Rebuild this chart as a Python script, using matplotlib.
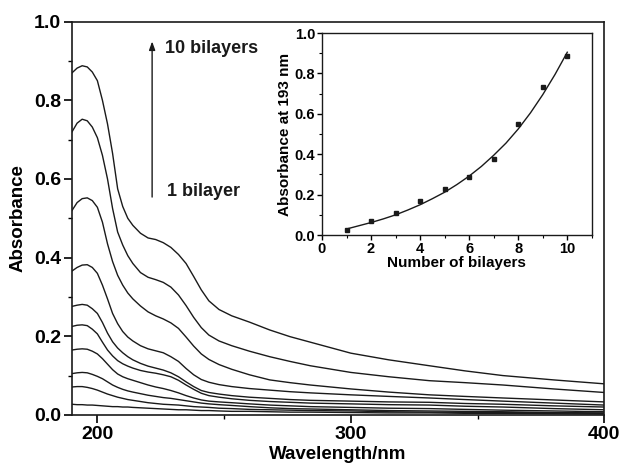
import numpy as np
import matplotlib
matplotlib.use('Agg')
import matplotlib.pyplot as plt
from matplotlib.ticker import MultipleLocator, FormatStrFormatter

plt.rcParams['font.family'] = ['Liberation Sans', 'DejaVu Sans']
plt.rcParams['font.weight'] = 'bold'

INK = '#1a1a1a'

# wavelength grid (nm) shared by all spectra
wavelength = [190, 192, 194, 196, 198, 200, 202, 204, 206, 208, 210, 212, 214,
              217, 220, 223, 226, 229, 232, 235, 238, 241, 244, 248, 253, 260,
              268, 276, 284, 300, 315, 331, 345, 360, 380, 400]

# absorbance spectra, 1 to 10 bilayers
abs_1 = [.027, .026, .026, .025, .025, .024, .023, .022, .021, .021, .020, .020, .019,
         .018, .017, .016, .015, .014, .013, .013, .012, .011, .011, .010, .009, .009,
         .008, .007, .007, .006, .005, .005, .004, .004, .003, .002]
abs_2 = [.071, .072, .072, .070, .067, .063, .058, .053, .049, .045, .042, .039, .037,
         .034, .031, .029, .027, .026, .025, .023, .021, .020, .019, .017, .016, .014,
         .013, .012, .011, .010, .008, .007, .0065, .006, .005, .004]
abs_3 = [.105, .107, .108, .107, .103, .098, .092, .084, .076, .070, .065, .061, .058,
         .054, .050, .047, .044, .042, .039, .036, .033, .030, .028, .026, .024, .021,
         .018, .016, .015, .013, .011, .010, .009, .008, .006, .005]
abs_4 = [.165, .167, .168, .167, .162, .155, .143, .129, .115, .104, .097, .092, .088,
         .082, .076, .071, .067, .062, .056, .049, .043, .038, .035, .033, .031, .028,
         .025, .023, .021, .019, .017, .016, .014, .012, .010, .008]
abs_5 = [.225, .228, .229, .227, .218, .206, .185, .165, .150, .138, .130, .124, .119,
         .113, .109, .106, .102, .097, .088, .076, .065, .055, .049, .045, .041, .037,
         .034, .032, .030, .028, .026, .025, .022, .020, .016, .013]
abs_6 = [.276, .279, .281, .279, .270, .258, .235, .208, .186, .170, .158, .148, .140,
         .131, .124, .119, .114, .107, .097, .084, .072, .062, .057, .053, .049, .045,
         .042, .039, .037, .035, .033, .032, .029, .027, .023, .020]
abs_7 = [.366, .375, .381, .382, .375, .360, .330, .295, .258, .232, .212, .198, .188,
         .176, .168, .163, .158, .148, .136, .118, .102, .090, .083, .077, .072, .067,
         .063, .059, .056, .051, .047, .043, .039, .035, .030, .025]
abs_8 = [.520, .540, .550, .552, .545, .528, .490, .435, .390, .355, .330, .310, .295,
         .277, .262, .252, .244, .234, .220, .198, .175, .155, .141, .128, .116, .102,
         .089, .082, .076, .066, .058, .051, .047, .043, .038, .033]
abs_9 = [.720, .742, .752, .748, .732, .705, .660, .600, .525, .465, .432, .405, .385,
         .362, .350, .344, .337, .325, .305, .278, .248, .222, .203, .188, .176, .162,
         .148, .136, .125, .108, .097, .087, .082, .076, .066, .057]
abs_10 = [.870, .882, .888, .885, .872, .850, .800, .740, .665, .575, .530, .500, .482,
          .462, .450, .446, .438, .426, .408, .385, .352, .318, .290, .268, .252, .236,
          .216, .199, .185, .157, .140, .125, .112, .100, .089, .079]
spectra = [abs_1, abs_2, abs_3, abs_4, abs_5, abs_6, abs_7, abs_8, abs_9, abs_10]

# inset: absorbance at 193 nm vs number of bilayers
bilayers = [1, 2, 3, 4, 5, 6, 7, 8, 9, 10]
abs_193 = [0.025, 0.072, 0.108, 0.168, 0.228, 0.285, 0.378, 0.548, 0.735, 0.885]
fit_x = [1, 1.5, 2, 2.5, 3, 3.5, 4, 4.5, 5, 5.5, 6, 6.5, 7, 7.5, 8, 8.5, 9, 9.5, 10]
fit_y = [0.030, 0.046, 0.062, 0.080, 0.100, 0.124, 0.150, 0.180, 0.212, 0.250,
         0.292, 0.340, 0.395, 0.455, 0.525, 0.605, 0.695, 0.795, 0.905]

fig = plt.figure(figsize=(6.21, 4.72), dpi=100, facecolor='white')
ax = fig.add_axes([0.116, 0.121, 0.857, 0.833])

for s in spectra:
    ax.plot(wavelength, s, color=INK, linewidth=1.0, solid_joinstyle='round')

ax.set_xlim(190, 400)
ax.set_ylim(0, 1.0)
ax.xaxis.set_major_locator(MultipleLocator(100))
ax.xaxis.set_minor_locator(MultipleLocator(50))
ax.yaxis.set_major_locator(MultipleLocator(0.2))
ax.yaxis.set_minor_locator(MultipleLocator(0.1))
ax.yaxis.set_major_formatter(FormatStrFormatter('%.1f'))
ax.tick_params(which='major', direction='out', length=6, width=1.2, labelsize=14, pad=2)
ax.tick_params(which='minor', direction='out', length=3, width=1.0)
ax.tick_params(top=False, right=False)
for sp in ax.spines.values():
    sp.set_linewidth(1.2)
    sp.set_color(INK)
ax.set_xlabel('Wavelength/nm', fontsize=13.5, fontweight='bold', labelpad=2)
ax.set_ylabel('Absorbance', fontsize=13.5, fontweight='bold', labelpad=5)

# arrow and labels
ax.annotate('', xy=(221.6, 0.957), xytext=(221.6, 0.547),
            arrowprops=dict(arrowstyle='-|>,head_length=0.5,head_width=0.18', color=INK, lw=1.0))
ax.text(226.5, 0.931, '10 bilayers', fontsize=13, fontweight='bold', va='center', ha='left', color=INK)
ax.text(227.3, 0.567, '1 bilayer', fontsize=13, fontweight='bold', va='center', ha='left', color=INK)

# inset
ins = fig.add_axes([0.5185, 0.502, 0.4345, 0.428])
ins.plot(fit_x, fit_y, color=INK, linewidth=1.0, solid_joinstyle='round')
ins.plot(bilayers, abs_193, linestyle='none', marker='s', markersize=3.0, color=INK)
ins.set_xlim(0, 11)
ins.set_ylim(0, 1.0)
ins.xaxis.set_major_locator(MultipleLocator(2))
ins.xaxis.set_minor_locator(MultipleLocator(1))
ins.yaxis.set_major_locator(MultipleLocator(0.2))
ins.yaxis.set_minor_locator(MultipleLocator(0.1))
ins.yaxis.set_major_formatter(FormatStrFormatter('%.1f'))
ins.tick_params(which='major', direction='out', length=3.5, width=1.0, labelsize=10.5, pad=1.5)
ins.tick_params(which='minor', direction='out', length=2, width=0.8)
for sp in ins.spines.values():
    sp.set_linewidth(1.0)
    sp.set_color(INK)
ins.set_xlabel('Number of bilayers', fontsize=11, fontweight='bold', labelpad=0)
ins.set_ylabel('Absorbance at 193 nm', fontsize=11, fontweight='bold', labelpad=2)

fig.savefig('out.png', dpi=100, facecolor='white')
